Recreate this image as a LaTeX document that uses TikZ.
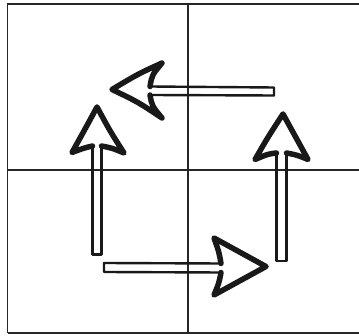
\documentclass[tikz,border=0pt]{standalone}
\begin{document}
\begin{tikzpicture}[x=1pt,y=-1pt,
  gridline/.style={line width=1.7pt,black!85},
  shaftline/.style={line width=2.4pt,black!90,line join=round},
  headline/.style={line width=5.5pt,black!90,line join=round,line cap=round}]
\useasboundingbox (0,0) rectangle (359,336);
\fill[white] (0,0) rectangle (359,336);
% frame and cross
\draw[gridline] (7.5,333) -- (7.5,4) -- (359,4);
\draw[gridline] (7.5,333) -- (359,333);
\draw[gridline] (188,4) -- (188,333);
\draw[gridline] (7.5,170) -- (359,170);
% top arrow (leftward)
\draw[shaftline] (150,86.5) -- (274,87.5) -- (274,95.5) -- (150,95);
\draw[headline] (150,86.5) .. controls (152,75) .. (162,63) .. controls (138,74) .. (112,89.5) .. controls (138,102) .. (162,118) .. controls (152,106) .. (150,95);
% left arrow (upward)
\draw[shaftline] (92.5,146) -- (92.5,254.5) -- (101.5,254.5) -- (101.5,146);
\draw[headline] (92.5,146) .. controls (84,148) .. (72,152.5) .. controls (84,131) .. (97,107) .. controls (110,131) .. (124,153) .. controls (112,148) .. (101.5,146);
% right arrow (upward)
\draw[shaftline] (276.5,153) -- (276.5,261) -- (286.5,261) -- (286.5,153);
\draw[headline] (276.5,153) .. controls (268,154) .. (255,159.5) .. controls (268,137) .. (283,114) .. controls (296,137) .. (308,159.5) .. controls (297,155) .. (286.5,153);
% bottom arrow (rightward)
\draw[shaftline] (221,263.5) -- (104,263) -- (104,272) -- (221,272.5);
\draw[headline] (221,263.5) .. controls (219,252) .. (214,238) .. controls (240,253) .. (266,266.5) .. controls (240,280) .. (214,295) .. controls (219,283) .. (221,272.5);
\end{tikzpicture}
\end{document}
